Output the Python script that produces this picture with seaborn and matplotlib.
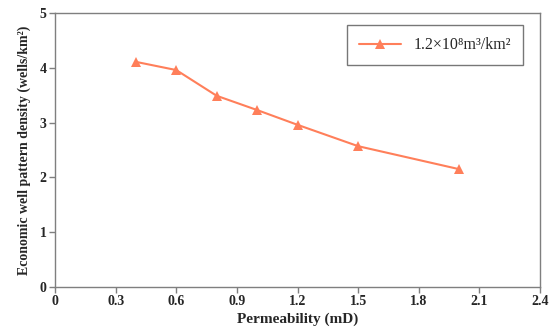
import seaborn as sns
import pandas as pd
import matplotlib.pyplot as plt

# permeability (mD) vs economic well pattern density
permeability = [0.4, 0.6, 0.8, 1.0, 1.2, 1.5, 2.0]
density = [4.11, 3.96, 3.49, 3.23, 2.96, 2.57, 2.15]
label = "1.2×10⁸m³/km²"

df = pd.DataFrame({"k": permeability, "d": density})

sns.set_style("white")
plt.rcParams['font.family'] = ['Liberation Serif', 'DejaVu Serif']

fig = plt.figure(figsize=(5.5, 3.36), dpi=100)
ax = fig.add_axes([0.1, 0.146, 0.882, 0.815])

sns.lineplot(data=df, x="k", y="d", ax=ax, color="#FF7F5A", linewidth=1.5,
             marker="^", markersize=7.5, markeredgewidth=0, label=label)

ax.set_xlim(0, 2.4)
ax.set_ylim(0, 5)
ax.set_xticks([0, 0.3, 0.6, 0.9, 1.2, 1.5, 1.8, 2.1, 2.4])
ax.set_xticklabels(["0", "0.3", "0.6", "0.9", "1.2", "1.5", "1.8", "2.1", "2.4"])
ax.set_yticks([0, 1, 2, 3, 4, 5])
for s in ax.spines.values():
    s.set_color("#7f7f7f")
    s.set_linewidth(1)
ax.tick_params(axis="both", which="both", direction="out", length=4, width=1,
               color="#7f7f7f", labelsize=10, pad=2)
ax.tick_params(top=False, right=False, bottom=True, left=True)
for t in ax.get_xticklabels() + ax.get_yticklabels():
    t.set_fontweight("bold")

ax.set_xlabel("Permeability (mD)", fontsize=11, fontweight="bold", labelpad=3)
ax.set_ylabel("Economic well pattern density (wells/km²)", fontsize=10,
              fontweight="bold", labelpad=6)

leg = ax.legend(loc="upper right", bbox_to_anchor=(0.965, 0.955), frameon=True,
                fancybox=False, fontsize=11.5, borderpad=0.75, handlelength=2.6,
                borderaxespad=0)
leg.get_frame().set_edgecolor("#555555")
leg.get_frame().set_linewidth(1)

fig.savefig("out.png", dpi=100)
